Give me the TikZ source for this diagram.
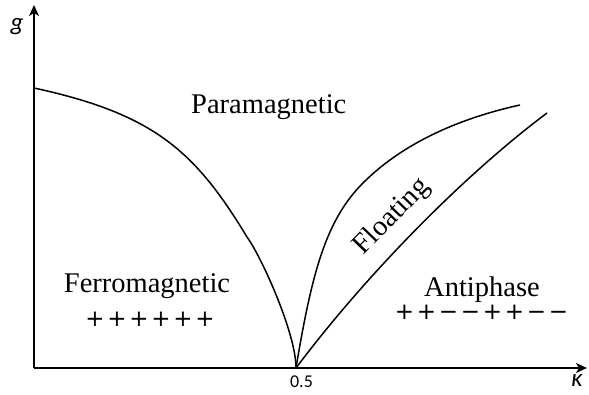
\documentclass[tikz,border=0pt]{standalone}
\usepackage{fontspec}
\setmainfont{Liberation Serif}
\newfontfamily\carl{Carlito}
\newfontfamily\dvs{DejaVu Sans}
\usetikzlibrary{arrows.meta}
\newcommand\sgn[1]{\makebox[22pt]{#1}}
\tikzset{
  axis/.style={line width=1.6pt, -{Stealth[length=11pt,width=10pt,inset=3pt]}},
  curve/.style={line width=1.5pt, line join=round},
  lbl/.style={font=\fontsize{28.5}{32}\selectfont, inner sep=0pt},
  sgnrow/.style={font=\dvs\fontsize{23}{26}\selectfont, inner sep=0pt, anchor=center},
  axlbl/.style={font=\carl\itshape\fontsize{25}{30}\selectfont, inner sep=0pt},
}
\begin{document}
\begin{tikzpicture}[x=1pt,y=-1pt]
\useasboundingbox (0,0) rectangle (589,395);
\coordinate (O) at (34,368);
\coordinate (Ytip) at (34,5);
\coordinate (Xtip) at (587,368);
\coordinate (H) at (296,368);
\coordinate (F0) at (34,88);
\coordinate (F1) at (247,237);
\coordinate (U1) at (363,183);
\coordinate (U2) at (520,105);
\coordinate (L2) at (547,113);
\draw[axis] (O) -- (Ytip);
\draw[axis] (O) -- (Xtip);
% ferromagnetic boundary
\draw[curve] (F0) .. controls (154,114) and (195,151) .. (F1)
  .. controls (261,256) and (296,333) .. (H);
% floating upper
\draw[curve] (H) .. controls (312,272) and (326,220) .. (U1)
  .. controls (408,138) and (470,116) .. (U2);
% floating lower
\draw[curve] (H) .. controls (362,280) and (459,179) .. (L2);
\node[lbl, anchor=base west] (para) at (191,114) {Paramagnetic};
\node[lbl, anchor=base] (ferro) at (147,293) {Ferromagnetic};
\node[lbl, anchor=base] (anti) at (482,297) {Antiphase};
\node[lbl, rotate=46] (float) at (392,217) {Floating};
\node[sgnrow] (fsg) at (150,319) {\sgn{+}\sgn{+}\sgn{+}\sgn{+}\sgn{+}\sgn{+}};
\node[sgnrow] (asg) at (481.5,312.5) {\sgn{+}\sgn{+}\sgn{−}\sgn{−}\sgn{+}\sgn{+}\sgn{−}\sgn{−}};
\node[font=\carl\fontsize{18}{20}\selectfont, inner sep=0pt] (half) at (301.5,381.5) {0.5};
\node[axlbl] (g) at (17,27) {g};
\node[axlbl] (k) at (577,381) {κ};
\end{tikzpicture}
\end{document}
